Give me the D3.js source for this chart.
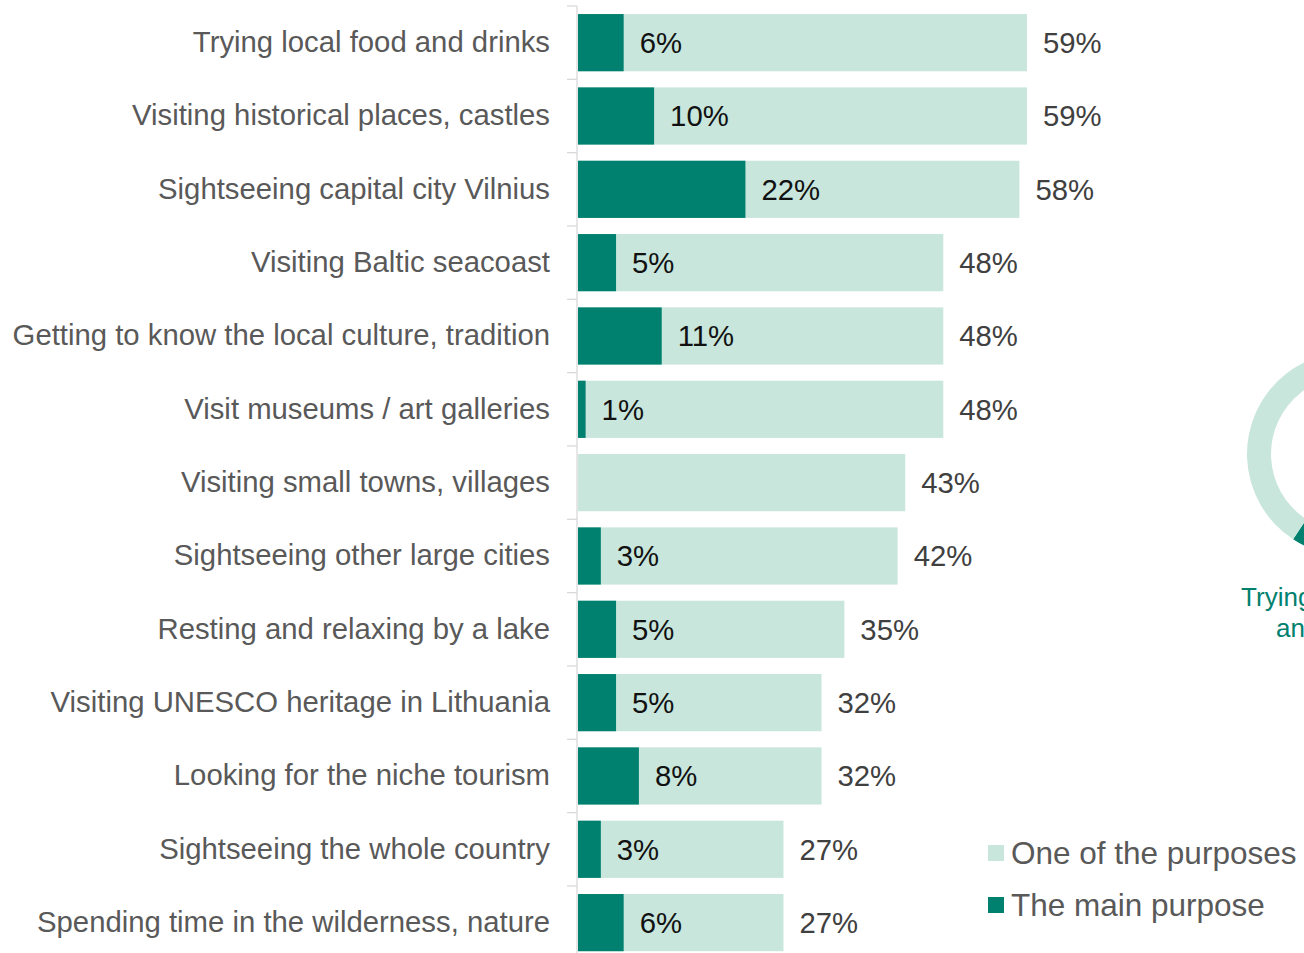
<!DOCTYPE html>
<html>
<head>
<meta charset="utf-8">
<script src="https://cdn.jsdelivr.net/npm/d3@7"></script>
<style>
  html, body { margin: 0; padding: 0; background: #ffffff; overflow: hidden; }
  svg { display: block; font-family: Arial, "Liberation Sans", sans-serif; }
</style>
</head>
<body>
<svg id="chart" width="1304" height="953"></svg>
<script>
// Travel purposes: share naming each activity as one of the purposes / the main purpose
const categories = [
  "Trying local food and drinks",
  "Visiting historical places, castles",
  "Sightseeing capital city Vilnius",
  "Visiting Baltic seacoast",
  "Getting to know the local culture, tradition",
  "Visit museums / art galleries",
  "Visiting small towns, villages",
  "Sightseeing other large cities",
  "Resting and relaxing by a lake",
  "Visiting UNESCO heritage in Lithuania",
  "Looking for the niche tourism",
  "Sightseeing the whole country",
  "Spending time in the wilderness, nature"
];
const oneOfPurposes = [59, 59, 58, 48, 48, 48, 43, 42, 35, 32, 32, 27, 27];
const mainPurpose   = [6, 10, 22, 5, 11, 1, null, 3, 5, 5, 8, 3, 6];

const seriesNames = ["One of the purposes", "The main purpose"];
const donutLabel = ["Trying local food", "and drinks"];
const donutValues = [6, 59]; // main purpose, one of the purposes

const colLight = "#c8e6dc";
const colDark = "#00806e";

const svg = d3.select("#chart");

const rows = categories.map((c, i) => ({ cat: c, total: oneOfPurposes[i], main: mainPurpose[i] }));

const x = d3.scaleLinear().domain([0, 59]).range([578, 1027]);
const step = 73.33;
const y = d3.scaleBand()
  .domain(categories)
  .range([6, 6 + step * categories.length])
  .paddingInner(0.22)
  .paddingOuter(0.11);

// Category axis: vertical line with tick marks between categories
const axisX = 577;
svg.append("line")
  .attr("x1", axisX).attr("x2", axisX)
  .attr("y1", y.range()[0]).attr("y2", 953)
  .attr("stroke", "#d9d9d9").attr("stroke-width", 1.3);
svg.append("g").selectAll("line")
  .data(d3.range(categories.length + 1))
  .join("line")
  .attr("x1", axisX - 10).attr("x2", axisX)
  .attr("y1", i => y.range()[0] + i * y.step())
  .attr("y2", i => y.range()[0] + i * y.step())
  .attr("stroke", "#d9d9d9").attr("stroke-width", 1.3);

// Category labels
svg.append("g").selectAll("text")
  .data(rows)
  .join("text")
  .attr("x", 550)
  .attr("y", d => y(d.cat) + y.bandwidth() / 2 - 1)
  .attr("dy", "0.35em")
  .attr("text-anchor", "end")
  .attr("font-size", 29.3)
  .attr("fill", "#595959")
  .text(d => d.cat);

// Total bars (one of the purposes)
svg.append("g").selectAll("rect")
  .data(rows)
  .join("rect")
  .attr("x", x(0))
  .attr("y", d => y(d.cat))
  .attr("width", d => x(d.total) - x(0))
  .attr("height", y.bandwidth())
  .attr("fill", colLight);

// Main purpose bars
const mainRows = rows.filter(d => d.main != null);
svg.append("g").selectAll("rect")
  .data(mainRows)
  .join("rect")
  .attr("x", x(0))
  .attr("y", d => y(d.cat))
  .attr("width", d => x(d.main) - x(0))
  .attr("height", y.bandwidth())
  .attr("fill", colDark);

// Value labels
svg.append("g").selectAll("text")
  .data(rows)
  .join("text")
  .attr("x", d => x(d.total) + 16)
  .attr("y", d => y(d.cat) + y.bandwidth() / 2)
  .attr("dy", "0.35em")
  .attr("font-size", 29.3)
  .attr("fill", "#404040")
  .text(d => d.total + "%");

svg.append("g").selectAll("text")
  .data(mainRows)
  .join("text")
  .attr("x", d => x(d.main) + 16)
  .attr("y", d => y(d.cat) + y.bandwidth() / 2)
  .attr("dy", "0.35em")
  .attr("font-size", 29.3)
  .attr("fill", "#111111")
  .text(d => d.main + "%");

// Legend
const legend = svg.append("g");
const legendItems = [
  { name: seriesNames[0], color: colLight, y: 853 },
  { name: seriesNames[1], color: colDark, y: 905 }
];
legend.selectAll("rect")
  .data(legendItems)
  .join("rect")
  .attr("x", 988).attr("y", d => d.y - 8)
  .attr("width", 16).attr("height", 16)
  .attr("fill", d => d.color);
legend.selectAll("text")
  .data(legendItems)
  .join("text")
  .attr("x", 1011).attr("y", d => d.y)
  .attr("dy", "0.35em")
  .attr("font-size", 31.5)
  .attr("fill", "#595959")
  .text(d => d.name);

// Donut for the top activity
const cx = 1349, cy = 454;
const pie = d3.pie().sort(null).startAngle(Math.PI).endAngle(3 * Math.PI);
const arc = d3.arc().innerRadius(78).outerRadius(102);
svg.append("g")
  .attr("transform", `translate(${cx},${cy})`)
  .selectAll("path")
  .data(pie(donutValues))
  .join("path")
  .attr("d", arc)
  .attr("fill", (d, i) => i === 0 ? colDark : colLight);

svg.append("g").selectAll("text")
  .data(donutLabel)
  .join("text")
  .attr("x", 1336)
  .attr("y", (d, i) => 606 + i * 31)
  .attr("text-anchor", "middle")
  .attr("font-size", 26)
  .attr("fill", colDark)
  .text(d => d);
</script>
</body>
</html>
